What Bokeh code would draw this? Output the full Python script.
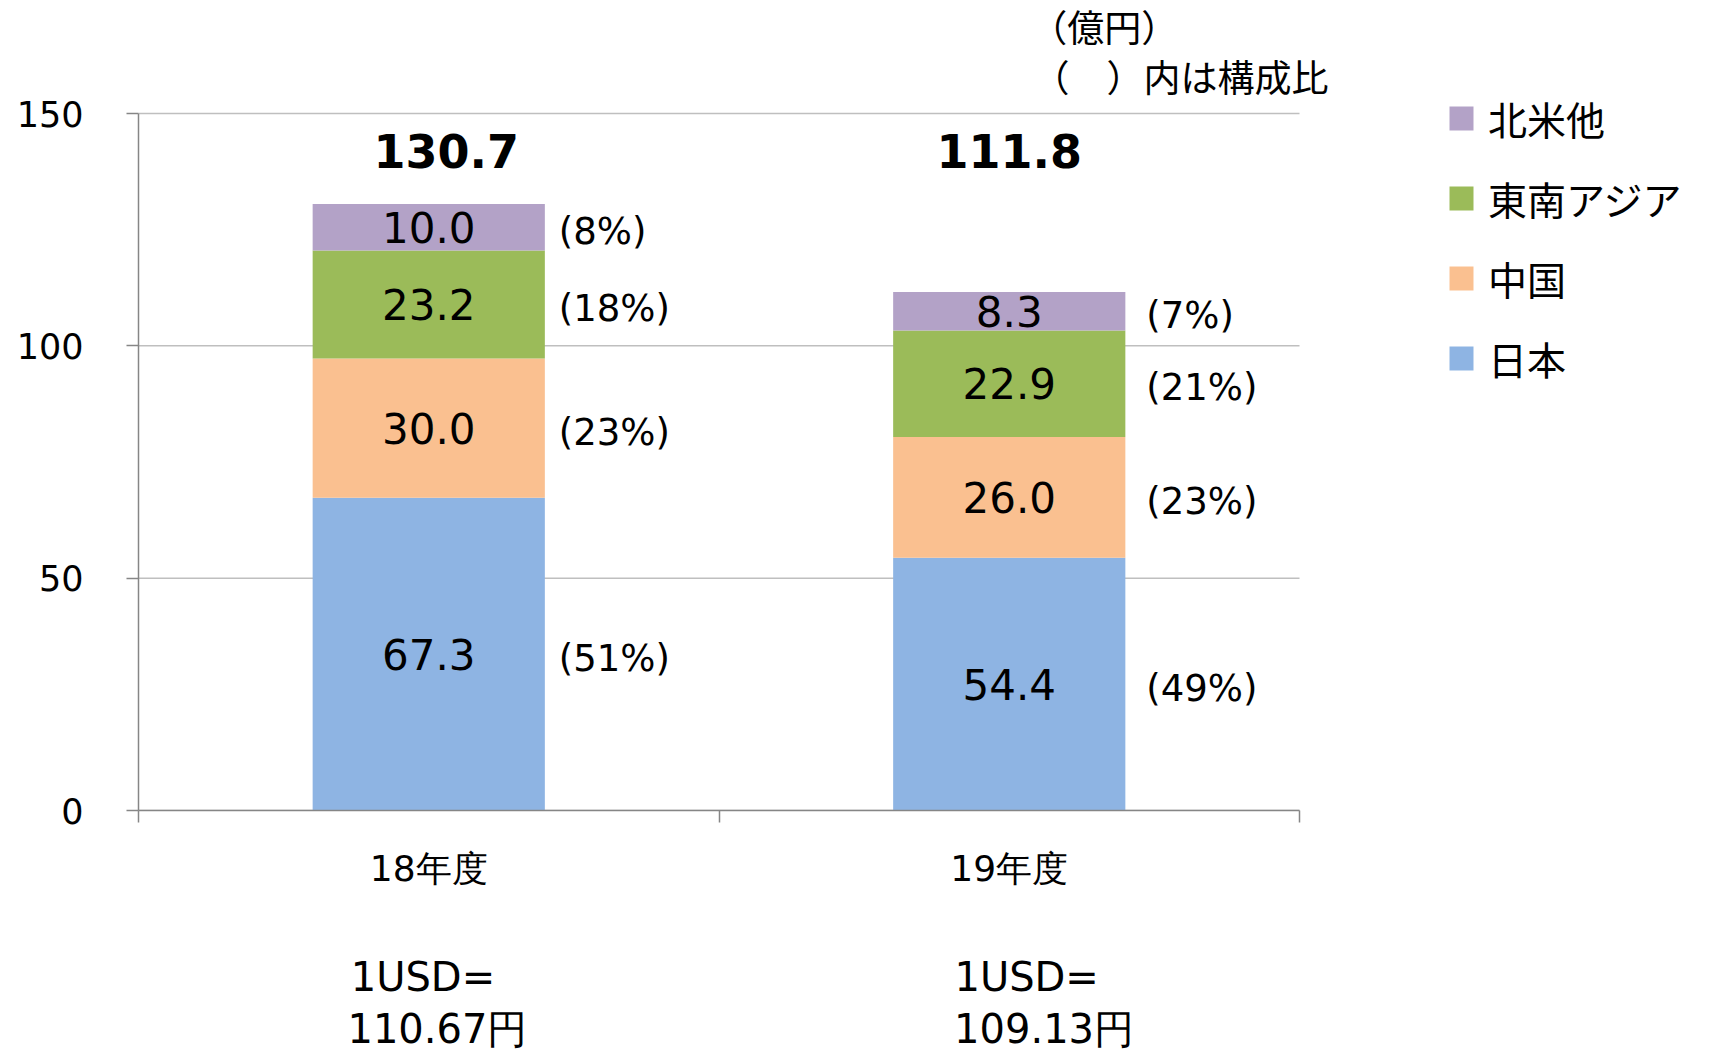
from bokeh.plotting import figure
from bokeh.models import (ColumnDataSource, Range1d, FixedTicker, LabelSet, Label,
                          Legend, LegendItem, LinearAxis)
from bokeh.core.properties import value
from bokeh.embed import file_html
from bokeh.resources import INLINE

# ---- data ----
categories = ["18年度", "19年度"]
regions = ["日本", "中国", "東南アジア", "北米他"]
japan = [67.3, 54.4]
china = [30.0, 26.0]
se_asia = [23.2, 22.9]
north_america = [10.0, 8.3]
totals = [130.7, 111.8]
share_japan = ["(51%)", "(49%)"]
share_china = ["(23%)", "(23%)"]
share_se_asia = ["(18%)", "(21%)"]
share_north_america = ["(8%)", "(7%)"]
fx_head = ["1USD=", "1USD="]
fx_rate = ["110.67円", "109.13円"]
unit_note = ["（億円）", "（　）内は構成比"]
y_ticks = [0, 50, 100, 150]

colors = ["#8EB4E3", "#FAC090", "#9BBB59", "#B3A2C7"]
JP = "Noto Sans CJK JP"
LAT = "DejaVu Sans"

series = [japan, china, se_asia, north_america]
shares = [share_japan, share_china, share_se_asia, share_north_america]
ncat = len(categories)
xs = [i + 0.5 for i in range(ncat)]
y_top = y_ticks[-1]

# ---- layout (pixels / small position tweaks) ----
W, H = 1700, 1054
FL, FB = 138, 810            # frame left / bottom (frame reaches canvas top & right)
AX_RIGHT, AX_TOP = 1299, 113  # where x=ncat and y=y_top should fall
x_max = ncat * (W - FL) / (AX_RIGHT - FL)
y_max = y_top * FB / (FB - AX_TOP)
total_shift = [0.03, 0.0]
share_shift = [0.0, 0.012]

p = figure(width=W, height=H, output_backend="svg", toolbar_location=None, title=None,
           x_range=Range1d(0, x_max), y_range=Range1d(0, y_max),
           min_border_left=FL, min_border_right=0,
           min_border_top=0, min_border_bottom=H - FB)
p.outline_line_color = None
p.background_fill_color = "white"

# horizontal grid lines (only across the category area)
p.segment(x0=[0] * len(y_ticks), x1=[ncat] * len(y_ticks), y0=y_ticks, y1=y_ticks,
          line_color="#BFBFBF", line_width=1.5)

data = {"x": xs}
for name, vals in zip(regions, series):
    data[name] = vals
src = ColumnDataSource(data)
renderers = p.vbar_stack(regions, x="x", width=0.4, color=colors, line_color=None, source=src)

# segment value labels + share labels
lx, ly, lt, px, pt = [], [], [], [], []
for ci in range(ncat):
    base = 0.0
    for si, vals in enumerate(series):
        v = vals[ci]
        lx.append(xs[ci]); ly.append(base + v / 2); lt.append(f"{v:.1f}")
        px.append(xs[ci] + 0.2 + share_shift[ci]); pt.append(shares[si][ci])
        base += v
seg_src = ColumnDataSource(dict(x=lx, y=ly, t=lt, px=px, pt=pt))
p.add_layout(LabelSet(x="x", y="y", text="t", source=seg_src, text_align="center",
                      text_baseline="middle", text_font=value(LAT),
                      text_font_size="42px", text_color="black"))
p.add_layout(LabelSet(x="px", y="y", text="pt", source=seg_src, text_align="left",
                      text_baseline="middle", text_font=value(LAT), x_offset=14, y_offset=-4,
                      text_font_size="37px", text_color="black"))

# totals
tot_src = ColumnDataSource(dict(x=[x + s for x, s in zip(xs, total_shift)], y=[142] * ncat,
                                t=[f"{v:.1f}" for v in totals]))
p.add_layout(LabelSet(x="x", y="y", text="t", source=tot_src, text_align="center",
                      text_baseline="middle", text_font=value(LAT), text_font_style="bold",
                      text_font_size="46px", text_color="black"))

# unit note
p.add_layout(Label(x=1.536, y=168.8, text=unit_note[0], text_align="left",
                   text_baseline="middle", text_font=JP, text_font_size="37px",
                   text_color="black"))
p.add_layout(Label(x=1.540, y=158.0, text=unit_note[1], text_align="left",
                   text_baseline="middle", text_font=JP, text_font_size="37px",
                   text_color="black"))

# y axis
p.yaxis.ticker = FixedTicker(ticks=y_ticks)
p.yaxis.bounds = (0, y_top)
p.yaxis.axis_line_color = "#868686"
p.yaxis.axis_line_width = 1.5
p.yaxis.major_tick_line_color = "#868686"
p.yaxis.major_tick_line_width = 1.5
p.yaxis.major_tick_out = 12
p.yaxis.major_tick_in = 0
p.yaxis.minor_tick_line_color = None
p.yaxis.major_label_standoff = 43
p.yaxis.major_label_text_font = LAT
p.yaxis.major_label_text_font_size = "35px"
p.yaxis.major_label_text_color = "black"

# category axis: labels at bar centres, tick marks (minor) at category boundaries
bounds = list(range(ncat + 1))
p.xaxis.ticker = FixedTicker(ticks=xs, minor_ticks=bounds)
p.xaxis.bounds = (0, ncat)
p.xaxis.major_label_overrides = {x: c for x, c in zip(xs, categories)}
p.xaxis.axis_line_color = "#868686"
p.xaxis.axis_line_width = 1.5
p.xaxis.major_tick_line_color = None
p.xaxis.major_tick_out = 0
p.xaxis.major_tick_in = 0
p.xaxis.minor_tick_line_color = "#868686"
p.xaxis.minor_tick_line_width = 1.5
p.xaxis.minor_tick_out = 12
p.xaxis.minor_tick_in = 0
p.xaxis.major_label_standoff = 25
p.xaxis.major_label_text_font = LAT
p.xaxis.major_label_text_font_size = "36px"
p.xaxis.major_label_text_color = "black"

fx_shift = [-0.01, 0.03]
rate_shift = [0.015, 0.06]
for labels, shifts, standoff in ((fx_head, fx_shift, 62), (fx_rate, rate_shift, 3)):
    ticks = [x + s for x, s in zip(xs, shifts)]
    ax = LinearAxis(ticker=FixedTicker(ticks=ticks, minor_ticks=[]),
                    major_label_overrides={t: l for t, l in zip(ticks, labels)},
                    axis_line_color=None, major_tick_line_color=None,
                    minor_tick_line_color=None, major_tick_out=0, major_tick_in=0,
                    minor_tick_out=0, major_label_standoff=standoff,
                    major_label_text_font=LAT, major_label_text_font_size="40px",
                    major_label_text_color="black")
    p.add_layout(ax, "below")

p.xgrid.visible = False
p.ygrid.visible = False

# legend
items = [LegendItem(label=regions[i], renderers=[renderers[i]]) for i in reversed(range(len(regions)))]
legend = Legend(items=items, location=(1308, 424), glyph_width=30, glyph_height=30,
                label_standoff=12, padding=0, margin=0, spacing=24,
                border_line_color=None, background_fill_alpha=0,
                label_text_font=JP, label_text_font_size="39px", label_text_color="black")
p.add_layout(legend)

open("out.html", "w").write(file_html(p, INLINE))
